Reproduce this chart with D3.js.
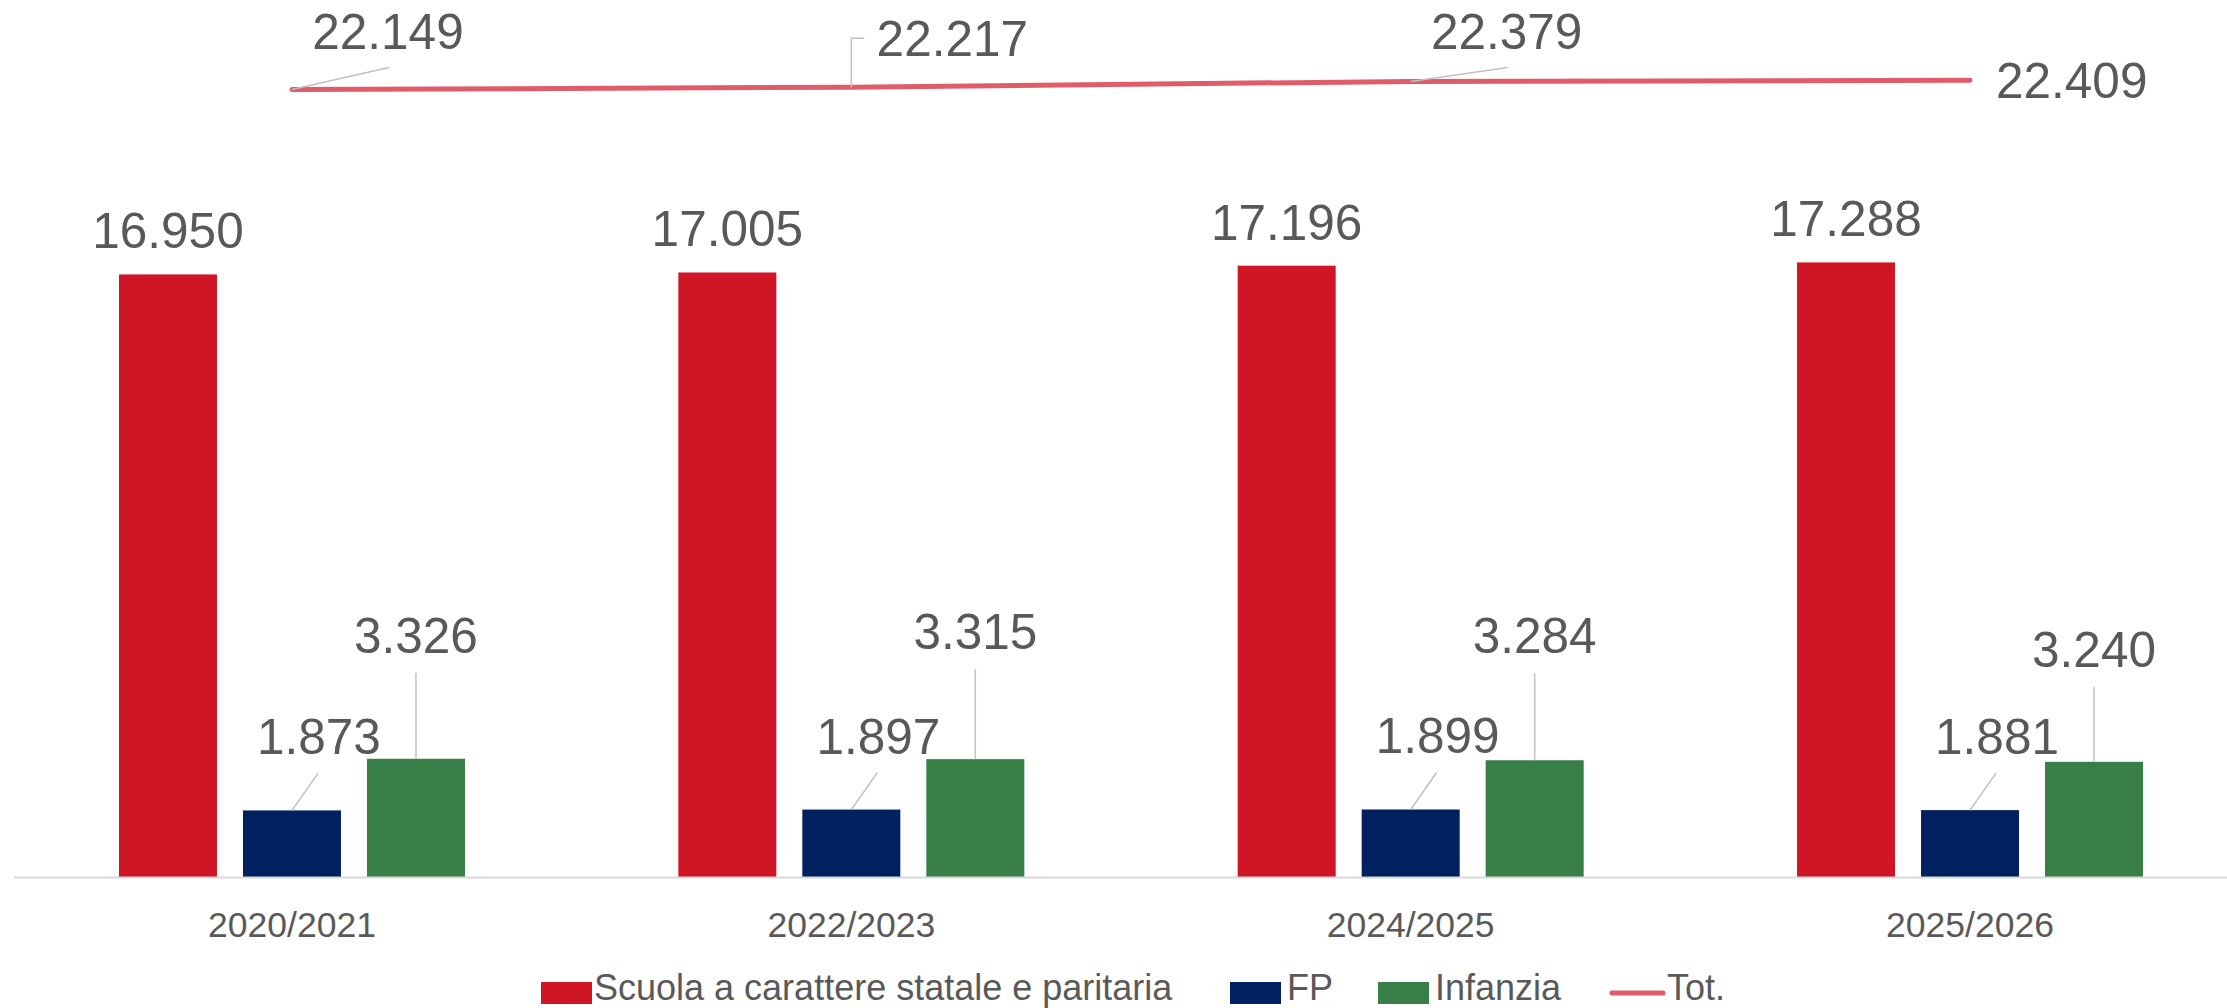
<!DOCTYPE html>
<html>
<head>
<meta charset="utf-8">
<script src="https://cdn.jsdelivr.net/npm/d3@7"></script>
<style>
  html, body { margin: 0; padding: 0; background: #ffffff; }
  svg { display: block; }
  text { font-family: "Liberation Sans", Arial, sans-serif; fill: #595959; }
</style>
</head>
<body>
<svg id="chart" width="2227" height="1008"></svg>
<script>
// ---------------- DATA ----------------
const categories = ["2020/2021", "2022/2023", "2024/2025", "2025/2026"];
const seriesNames = ["Scuola a carattere statale e paritaria", "FP", "Infanzia"];
const scuola   = [16950, 17005, 17196, 17288];
const fp       = [1873, 1897, 1899, 1881];
const infanzia = [3326, 3315, 3284, 3240];
const totale   = [22149, 22217, 22379, 22409];
const totName  = "Tot.";
const yTicks   = [0, 24000];

// ---------------- LAYOUT / STYLE ----------------
const W = 2227, H = 1008;
const colors = ["#D01526", "#00205F", "#377E47"];
const lineColor = "#E05C69";
const leaderColor = "#C0C0C0";
const fmt = v => d3.format(",")(v).replace(/,/g, ".");

// manual label placement (Excel style, dragged labels)
const infLabelGap = [106, 110, 107, 95];
const totLabelOffsets = [
  {dx: 96,  dy: -41, anchor: "middle", leader: "diag", lx: 97, ly: -22},
  {dx: 101, dy: -31, anchor: "middle", leader: "elbow", lx: 13, ly: -49},
  {dx: 96,  dy: -32, anchor: "middle", leader: "diag", lx: 97, ly: -14},
  {dx: 26,  dy: 18,  anchor: "start",  leader: "none"}
];

const svg = d3.select("#chart");

const x = d3.scaleBand().domain(categories).range([12.3, 2249.7]).paddingInner(0).paddingOuter(0);
const xInner = d3.scaleBand().domain(seriesNames).range([-173, 173]).paddingInner(26 / 124).paddingOuter(0);
const y = d3.scaleLinear().domain([yTicks[0], yTicks[1]]).range([877, 23.8]);

const groupCenter = c => x(c) + x.bandwidth() / 2;
const seriesData = [scuola, fp, infanzia];

// bars
seriesData.forEach((vals, si) => {
  svg.append("g").selectAll("rect")
    .data(vals)
    .join("rect")
    .attr("x", (d, i) => groupCenter(categories[i]) + xInner(seriesNames[si]))
    .attr("y", d => y(d))
    .attr("width", xInner.bandwidth())
    .attr("height", d => y(0) - y(d))
    .attr("fill", colors[si]);
});

// category axis
const axis = d3.axisBottom(x).tickSize(0).tickPadding(0);
const gAxis = svg.append("g").attr("transform", `translate(0, ${y(0)})`).call(axis);
gAxis.select(".domain").remove();
gAxis.selectAll("text")
  .attr("y", 60).attr("dy", 0)
  .style("font-size", "35.5px")
  .style("font-family", "'Liberation Sans', Arial, sans-serif")
  .attr("fill", "#595959");
svg.append("line")
  .attr("x1", 14).attr("x2", W)
  .attr("y1", y(0) + 0.5).attr("y2", y(0) + 0.5)
  .attr("stroke", "#D9D9D9").attr("stroke-width", 2);

// scuola labels
svg.append("g").selectAll("text")
  .data(scuola).join("text")
  .attr("x", (d, i) => groupCenter(categories[i]) + xInner(seriesNames[0]) + xInner.bandwidth() / 2)
  .attr("y", d => y(d) - 26)
  .attr("text-anchor", "middle")
  .style("font-size", "49.5px")
  .text(d => fmt(d));

// fp labels + leaders
fp.forEach((d, i) => {
  const cx = groupCenter(categories[i]) + xInner(seriesNames[1]) + xInner.bandwidth() / 2;
  const top = y(d);
  svg.append("line")
    .attr("x1", cx).attr("y1", top)
    .attr("x2", cx + 26).attr("y2", top - 37)
    .attr("stroke", leaderColor).attr("stroke-width", 1.5);
  svg.append("text")
    .attr("x", cx + 27).attr("y", top - 56)
    .attr("text-anchor", "middle")
    .style("font-size", "49.5px")
    .text(fmt(d));
});

// infanzia labels + leaders
infanzia.forEach((d, i) => {
  const cx = groupCenter(categories[i]) + xInner(seriesNames[2]) + xInner.bandwidth() / 2;
  const top = y(d);
  const base = top - infLabelGap[i];
  svg.append("line")
    .attr("x1", cx).attr("y1", top)
    .attr("x2", cx).attr("y2", base + 20)
    .attr("stroke", leaderColor).attr("stroke-width", 1.5);
  svg.append("text")
    .attr("x", cx).attr("y", base)
    .attr("text-anchor", "middle")
    .style("font-size", "49.5px")
    .text(fmt(d));
});

// total line
const line = d3.line()
  .x((d, i) => groupCenter(categories[i]))
  .y(d => y(d));
svg.append("path")
  .datum(totale)
  .attr("d", line)
  .attr("fill", "none")
  .attr("stroke", lineColor)
  .attr("stroke-width", 5)
  .attr("stroke-linecap", "round")
  .attr("stroke-linejoin", "round");

// total labels + leaders
totale.forEach((d, i) => {
  const px = groupCenter(categories[i]);
  const py = y(d);
  const o = totLabelOffsets[i];
  if (o.leader === "diag") {
    svg.append("line")
      .attr("x1", px).attr("y1", py)
      .attr("x2", px + o.lx).attr("y2", py + o.ly)
      .attr("stroke", leaderColor).attr("stroke-width", 1.5);
  } else if (o.leader === "elbow") {
    svg.append("path")
      .attr("d", `M${px},${py} L${px},${py + o.ly} L${px + o.lx},${py + o.ly}`)
      .attr("fill", "none")
      .attr("stroke", leaderColor).attr("stroke-width", 1.5);
  }
  svg.append("text")
    .attr("x", px + o.dx).attr("y", py + o.dy)
    .attr("text-anchor", o.anchor)
    .style("font-size", "49.5px")
    .text(fmt(d));
});

// legend
const legendItems = [
  {name: seriesNames[0], color: colors[0], type: "rect", sx: 541, tx: 594},
  {name: seriesNames[1], color: colors[1], type: "rect", sx: 1230, tx: 1287},
  {name: seriesNames[2], color: colors[2], type: "rect", sx: 1378, tx: 1435},
  {name: totName, color: lineColor, type: "line", sx: 1609, tx: 1667}
];
const lg = svg.append("g");
legendItems.forEach(it => {
  if (it.type === "rect") {
    lg.append("rect").attr("x", it.sx).attr("y", 982).attr("width", 51).attr("height", 22).attr("fill", it.color);
  } else {
    lg.append("line").attr("x1", it.sx + 3).attr("x2", it.sx + 54).attr("y1", 993).attr("y2", 993)
      .attr("stroke", it.color).attr("stroke-width", 5).attr("stroke-linecap", "round");
  }
  lg.append("text").attr("x", it.tx).attr("y", 1000).style("font-size", "36px").text(it.name);
});
</script>
</body>
</html>
